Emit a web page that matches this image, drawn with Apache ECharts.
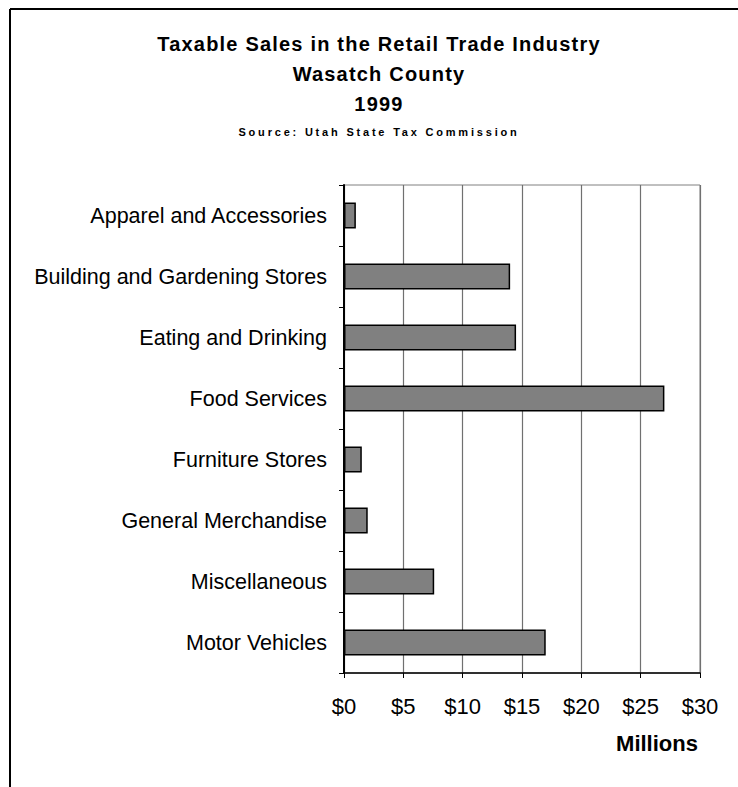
<!DOCTYPE html>
<html>
<head>
<meta charset="utf-8">
<script src="https://cdn.jsdelivr.net/npm/echarts@6/dist/echarts.min.js"></script>
<style>
  html, body { margin: 0; padding: 0; background: #fff; }
  #main { width: 738px; height: 787px; }
</style>
</head>
<body>
<div id="main"></div>
<script>
// taxable sales by retail category, millions of dollars
var categories = [
  "Apparel and Accessories",
  "Building and Gardening Stores",
  "Eating and Drinking",
  "Food Services",
  "Furniture Stores",
  "General Merchandise",
  "Miscellaneous",
  "Motor Vehicles"
];
var sales = [1.0, 14.0, 14.5, 27.0, 1.5, 2.0, 7.6, 17.0];
var titleLines = ["Taxable Sales in the Retail Trade Industry", "Wasatch County", "1999"];
var sourceText = "Source: Utah State Tax Commission";
var axisName = "Millions";

var font = "Liberation Sans, Arial, sans-serif";
var chart = echarts.init(document.getElementById("main"), null, { renderer: "svg" });

var opt = {
  animation: false,
  backgroundColor: "#fff",
  title: [
    {
      text: titleLines.join("\n"),
      left: 374,
      top: 24,
      textAlign: "center",
      textStyle: { fontFamily: font, fontSize: 20, fontWeight: "bold", color: "#000", lineHeight: 30 }
    },
    {
      text: sourceText,
      left: 374,
      top: 120,
      textAlign: "center",
      textStyle: { fontFamily: font, fontSize: 11, fontWeight: "bold", color: "#000", lineHeight: 14 }
    },
    {
      text: axisName,
      left: 652,
      top: 726,
      textAlign: "center",
      textStyle: { fontFamily: font, fontSize: 22, fontWeight: "bold", color: "#000", lineHeight: 24 }
    }
  ],
  grid: {
    left: 344,
    right: 38,
    top: 185,
    bottom: 114,
    show: true,
    borderColor: "#808080",
    borderWidth: 1
  },
  xAxis: {
    type: "value",
    min: 0,
    max: 30,
    interval: 5,
    axisLine: { show: true, lineStyle: { color: "#000", width: 1.5 } },
    axisTick: { show: true, length: 5, lineStyle: { color: "#000" } },
    splitLine: { show: true, lineStyle: { color: "#707070", width: 1.2 } },
    axisLabel: {
      margin: 22,
      fontFamily: font,
      fontSize: 22,
      color: "#000",
      formatter: function (v) { return "$" + v; }
    }
  },
  yAxis: {
    type: "category",
    data: categories,
    inverse: true,
    axisLine: { show: true, lineStyle: { color: "#000", width: 2 } },
    axisTick: { show: true, length: 5, lineStyle: { color: "#000" } },
    axisLabel: { margin: 17, fontFamily: font, fontSize: 21.5, color: "#000" }
  },
  series: [
    {
      type: "bar",
      data: sales,
      barWidth: 26,
      itemStyle: { color: "#808080", borderColor: "#000", borderWidth: 1.5 }
    }
  ],
  graphic: [
    { type: "line", shape: { x1: 10, y1: 9, x2: 738, y2: 9 }, style: { stroke: "#000", lineWidth: 2 } },
    { type: "line", shape: { x1: 10, y1: 9, x2: 10, y2: 787 }, style: { stroke: "#000", lineWidth: 2 } }
  ]
};
chart.setOption(opt);

// the original headings are letter-spaced; zrender has no letterSpacing, so set it on the svg text
function spaceText() {
  var texts = document.querySelectorAll("#main text");
  texts.forEach(function (t) {
    var s = t.textContent;
    if (s === sourceText) t.style.letterSpacing = "2.8px";
    else if (titleLines.indexOf(s) >= 0) t.style.letterSpacing = "1.2px";
  });
}
chart.on("finished", spaceText);
spaceText();
</script>
</body>
</html>
